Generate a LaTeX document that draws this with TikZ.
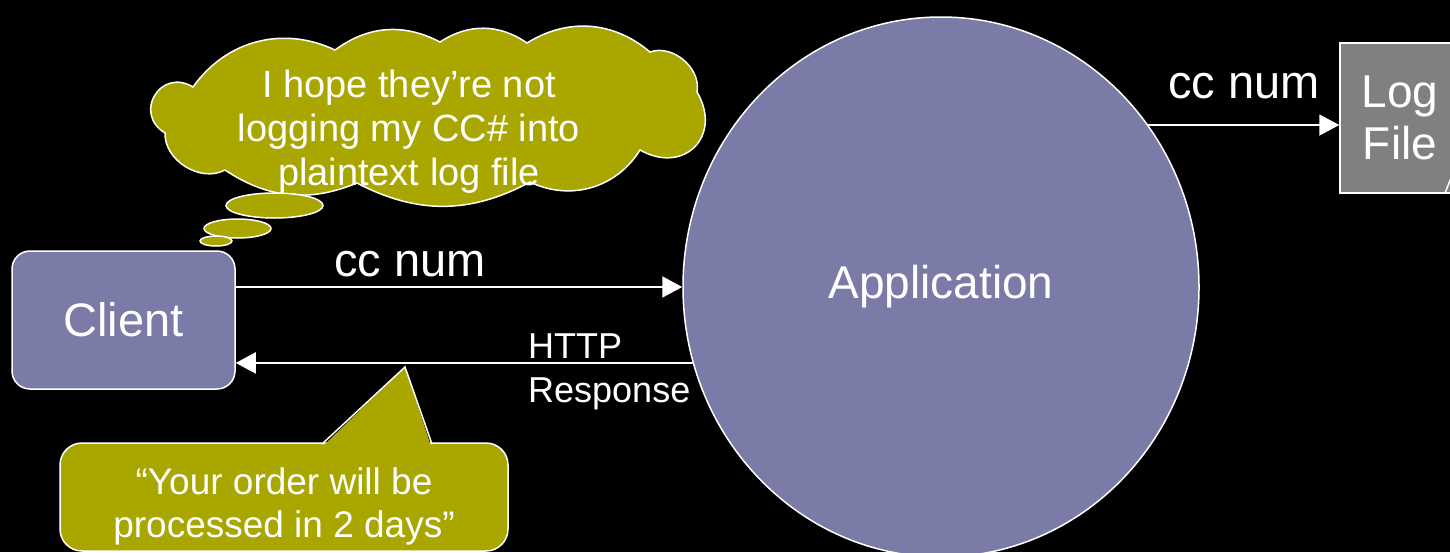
\documentclass[tikz,border=0pt]{standalone}
\usepackage{fontspec}
\setmainfont{Liberation Sans}
\usetikzlibrary{shapes.geometric,arrows.meta}
\definecolor{appblue}{RGB}{123,123,168}
\definecolor{bubble}{RGB}{170,166,0}
\definecolor{filegray}{RGB}{128,128,128}

\begin{document}
\begin{tikzpicture}[x=1pt,y=-1pt,
        box/.style={draw=white, line width=1.5pt, fill=appblue, text=white},
        flow/.style={draw=white, line width=2pt, -{Triangle[length=20pt,width=21pt]}},
        lbl/.style={text=white, inner sep=0pt},
        say/.style={draw=white, line width=1.5pt, fill=bubble, text=white}]

    % background
    \fill[black] (0,0) rectangle (1450,552);
    \clip (0,0) rectangle (1450,552);

    % client and application
    \node[box, rounded corners=18pt, minimum width=223pt, minimum height=138pt,
          font=\fontsize{47}{56}\selectfont] (client) at (123.5,320) {Client};
    \node[box, ellipse, inner sep=0pt, minimum width=516pt, minimum height=540pt,
          font=\fontsize{46}{55}\selectfont] (app) at (941,287) {Application};

    % log file
    \node[box, fill=filegray, minimum width=120pt, minimum height=150pt, align=center,
          font=\fontsize{46}{52}\selectfont] (logfile) at (1400,118) {Log\\File};
    \draw[white, line width=1.5pt] (1445,193) -- (1451,178);

    % arrows
    \draw[flow] (client.east |- app.west) -- node[lbl, above=9pt, pos=0.39,
          font=\fontsize{47}{56}\selectfont] (ccin) {cc num} (app.west);
    \draw[flow] (app.197) -- (client.east |- app.197);
    \node[lbl, align=left, anchor=west, font=\fontsize{36}{44}\selectfont]
          (resp) at (528,372) {HTTP\\Response};
    \draw[flow] (app.38) -- node[lbl, above=25pt,
          font=\fontsize{47}{56}\selectfont] (ccout) {cc num} (logfile.west |- app.38);

    % thought cloud
    \draw[say] (193,87) to[bend left=40] (335,50) to[bend left=32] (440,42)
          to[bend left=34] (527,43) to[bend left=36] (650,52) to[bend left=60] (697,92)
          to[bend left=75, looseness=1.6] (640,150) to[bend left=42] (530,182)
          to[bend left=28] (357,183) to[bend left=28] (225,170) to[bend left=60] (165,133)
          to[bend left=90, looseness=1.8] cycle;
    \node[lbl, align=center, font=\fontsize{38}{44}\selectfont] (hope) at (409,132)
          {I hope they’re not\\logging my CC\# into\\plaintext log file};
    \draw[say] (274.5,205.5) ellipse [x radius=48.5pt, y radius=12.5pt];
    \draw[say] (237.5,228.5) ellipse [x radius=33.5pt, y radius=9.5pt];
    \draw[say] (216,241) ellipse [x radius=16pt, y radius=5pt];

    % callout
    \node[say, rounded corners=22pt, minimum width=448pt, minimum height=108pt, align=center,
          text height=88pt, font=\fontsize{37}{43}\selectfont] (order) at (284,497)
          {“Your order will be\\processed in 2 days”};
    \fill[bubble] (323,446) -- (405,367) -- (431,446) -- cycle;
    \draw[white, line width=1.5pt] (322,444) -- (405,367) -- (432,444);
\end{tikzpicture}
\end{document}
